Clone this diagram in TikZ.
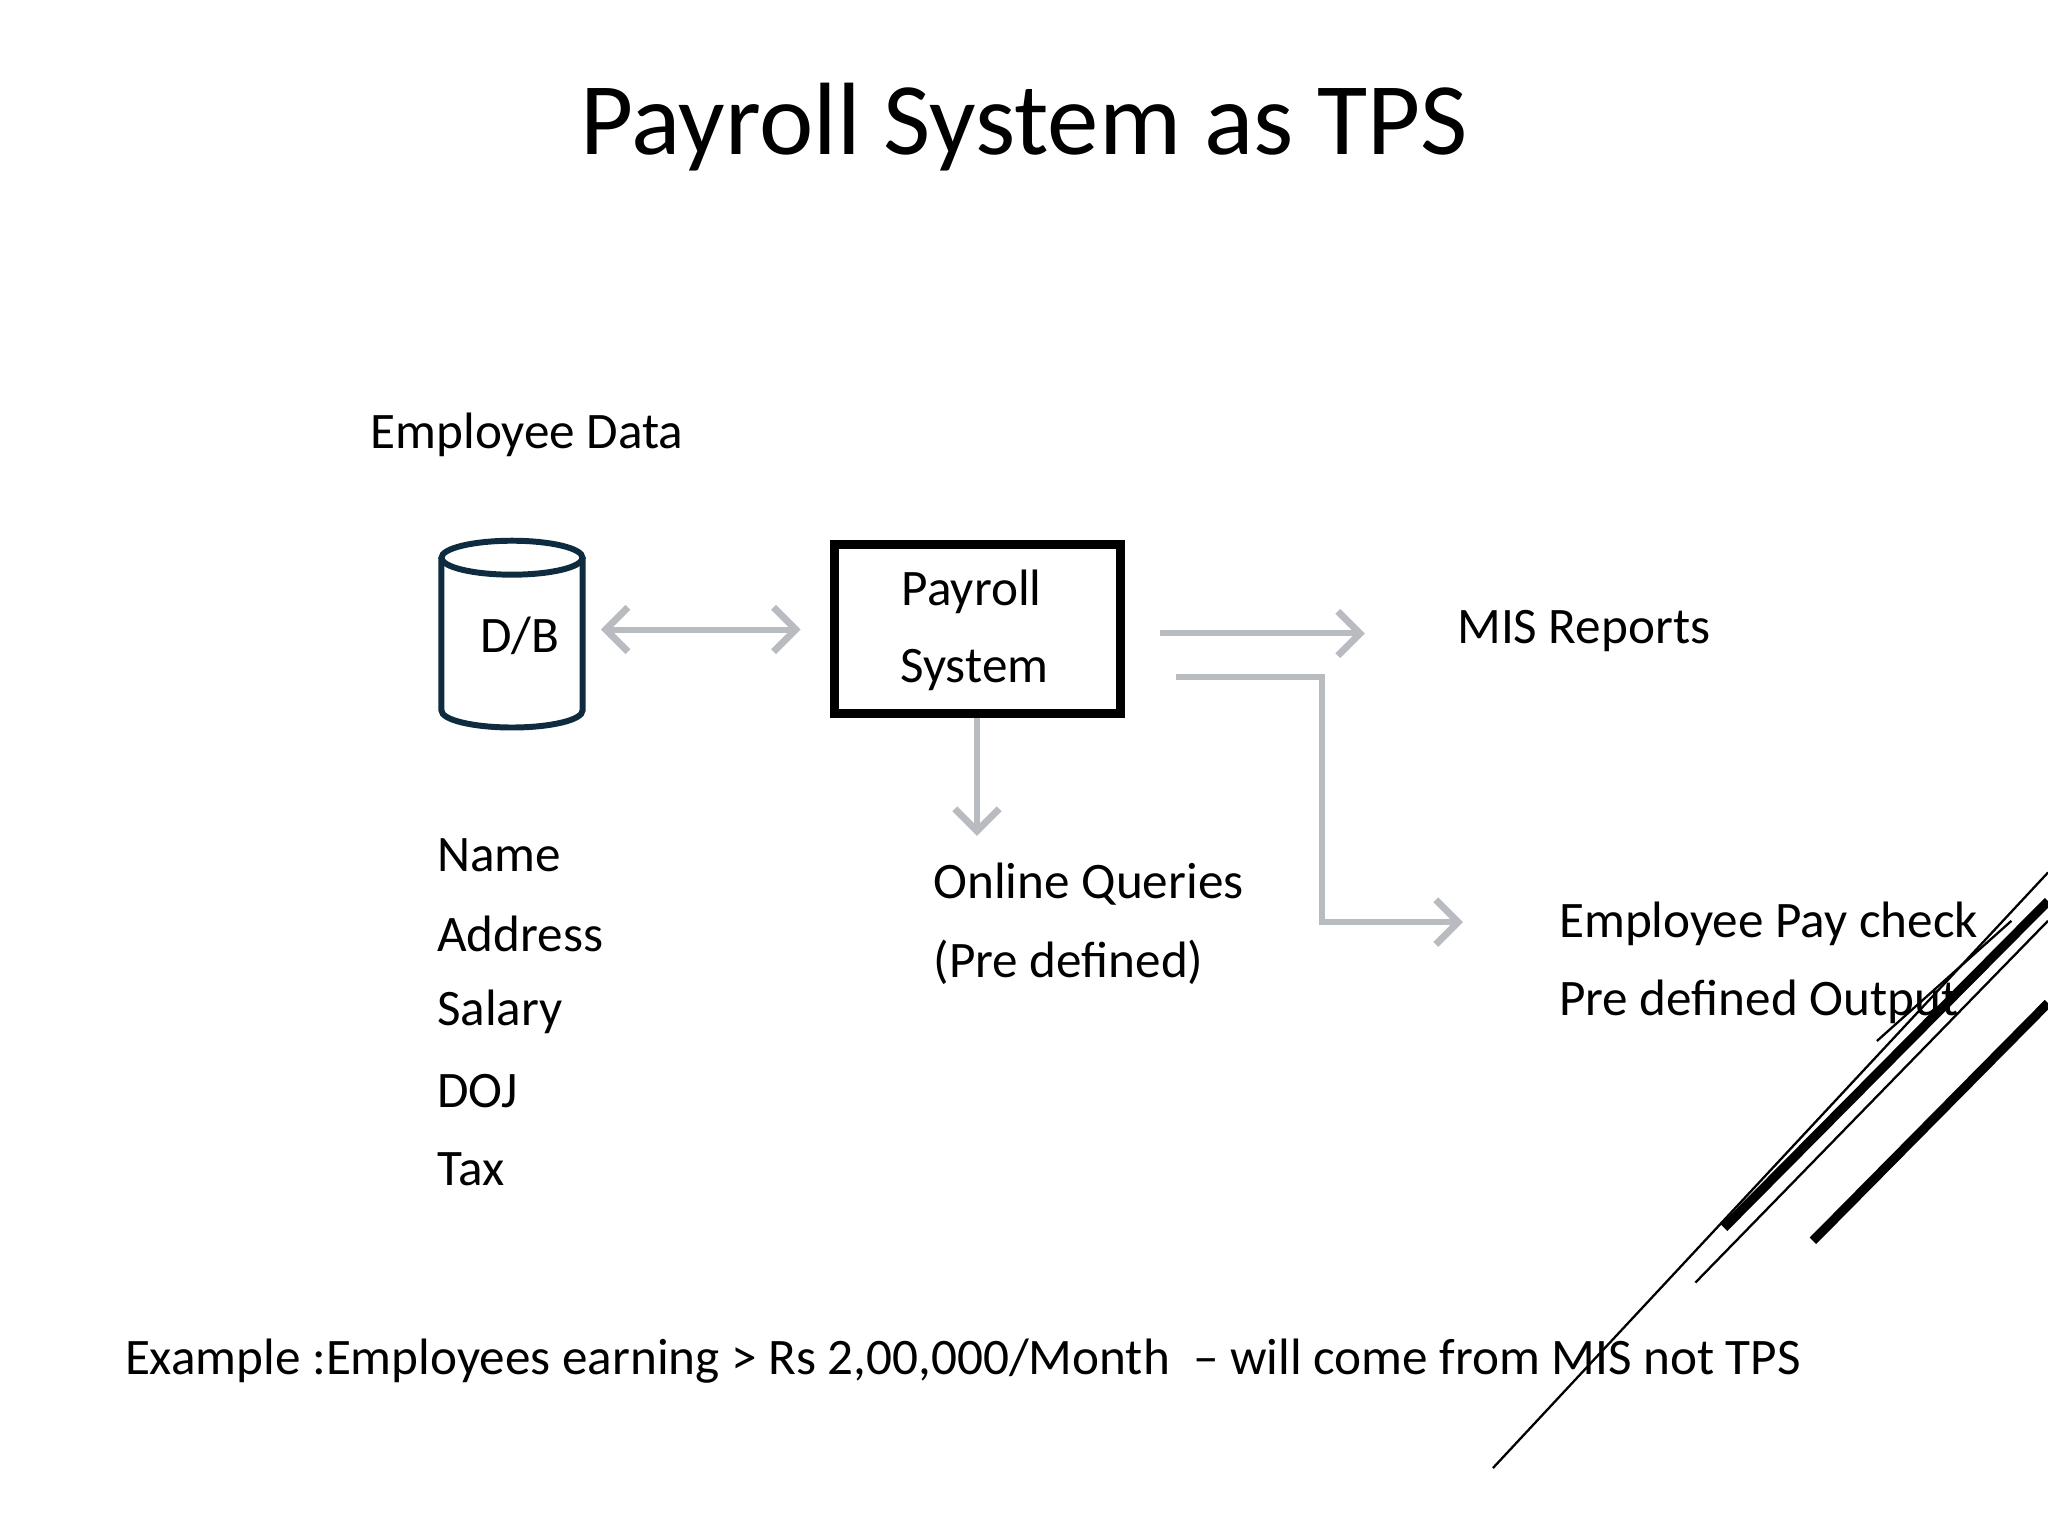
\documentclass[tikz,border=0pt]{standalone}
\usepackage{fontspec}
\setmainfont{Carlito}
\usetikzlibrary{shapes.geometric,arrows.meta}
\definecolor{arr}{HTML}{B8BCC0}
\definecolor{navy}{HTML}{0E2B40}
\tikzset{
 txt/.style={anchor=west,inner sep=0pt,font=\fontsize{11.15}{13}\selectfont},
 ga/.style={draw=arr,line width=1.3pt,-{Straight Barb[length=1.7mm,width=3.4mm,line width=1.5pt]}},
 gb/.style={draw=arr,line width=1.3pt,{Straight Barb[length=1.7mm,width=3.4mm,line width=1.5pt]}-{Straight Barb[length=1.7mm,width=3.4mm,line width=1.5pt]}},
 cyl/.style={draw=navy,line width=1.3pt},
}
\begin{document}
\begin{tikzpicture}[x=1cm,y=-1cm]
\useasboundingbox (0,0) rectangle (15.68,11.76);
\node[font=\fontsize{22.4}{27}\selectfont] (title) at (7.84,0.97) {Payroll System as TPS};
\node[txt] (ed) at (2.83,3.33) {Employee Data};
\draw[cyl] (3.92,4.27) ellipse [x radius=0.54cm, y radius=0.13cm];
\draw[cyl] (3.38,4.27) -- (3.38,5.44) arc[start angle=180,end angle=360,x radius=0.54cm,y radius=0.13cm] -- (4.46,4.27);
\node[font=\fontsize{11.15}{13}\selectfont] (dbl) at (3.98,4.87) {D/B};
\node[draw,line width=2pt,minimum width=2.19cm,minimum height=1.29cm] (ps) at (7.485,4.815) {};
\node[font=\fontsize{11.15}{13}\selectfont] (p1) at (7.44,4.53) {Payroll};
\node[font=\fontsize{11.15}{13}\selectfont] (p2) at (7.46,5.13) {System};
\coordinate (d1) at (4.60,4.82); \coordinate (d2) at (6.13,4.82);
\draw[gb] (d1) -- (d2);
\coordinate (m1) at (8.88,4.85); \coordinate (m2) at (10.45,4.85);
\draw[ga] (m1) -- (m2);
\coordinate (q2) at (7.48,6.40);
\draw[ga] (ps.south -| q2) -- (q2);
\coordinate (e1) at (9.00,5.18); \coordinate (e2) at (11.20,7.06);
\draw[ga] (e1) -- (10.12,5.18) -- (10.12,7.06) -- (e2);
\node[txt] (mis) at (11.15,4.83) {MIS Reports};
\node[txt] (oq) at (7.14,6.77) {Online Queries};
\node[txt] (pd) at (7.14,7.37) {(Pre defined)};
\node[txt] (pc) at (11.93,7.07) {Employee Pay check};
\node[txt] (po) at (11.93,7.67) {Pre defined Output};
\node[txt] (n1) at (3.34,6.55) {Name};
\node[txt] (n2) at (3.34,7.15) {Address};
\node[txt] (n3) at (3.34,7.75) {Salary};
\node[txt] (n4) at (3.34,8.35) {DOJ};
\node[txt] (n5) at (3.34,8.95) {Tax};
\node[txt] (ex) at (0.95,10.42) {Example :Employees earning > Rs 2,00,000/Month \ – will come from MIS not TPS};
\draw[line width=0.5pt] (15.68,6.68) -- (11.43,11.24);
\draw[line width=0.5pt] (15.68,7.05) -- (12.98,9.82);
\draw[line width=0.5pt] (15.40,7.05) -- (14.37,7.97);
\draw[line width=2pt] (15.68,6.90) -- (13.20,9.40);
\draw[line width=2pt] (15.68,7.68) -- (13.88,9.50);
\end{tikzpicture}
\end{document}
